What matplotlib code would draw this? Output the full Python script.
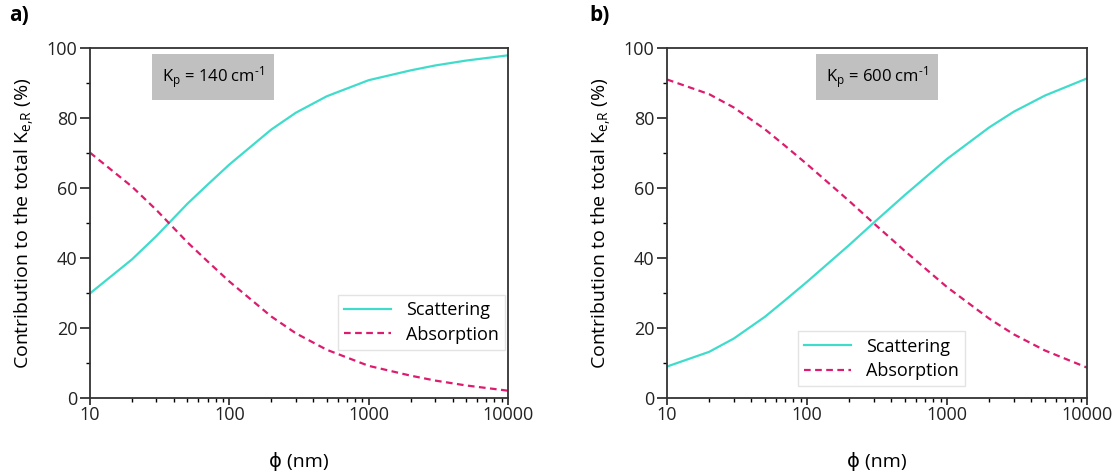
import numpy as np
import matplotlib
matplotlib.use("Agg")
from matplotlib import pyplot as plt

plt.rcParams['font.family'] = ['Open Sans', 'DejaVu Sans']
plt.rcParams['mathtext.fontset'] = 'custom'
plt.rcParams['mathtext.rm'] = 'Open Sans'
plt.rcParams['mathtext.it'] = 'Open Sans:italic'
plt.rcParams['mathtext.bf'] = 'Open Sans:bold'
plt.rcParams['mathtext.default'] = 'regular'

# particle diameter (nm)
diameter = [10, 20, 30, 50, 70, 100, 200, 300, 500, 1000, 2000, 3000, 5000, 10000]

# panel a) Kp = 140 cm-1, scattering share (%)
scat_a = [29.9, 39.6, 46.3, 55.5, 61.0, 66.7, 76.7, 81.5, 86.2, 90.8, 93.6, 95.0, 96.4, 97.9]
# panel b) Kp = 600 cm-1, scattering share (%)
scat_b = [9.0, 13.2, 17.0, 23.2, 28.0, 33.2, 43.7, 50.1, 58.0, 68.3, 77.3, 81.8, 86.4, 91.3]

abs_a = [100 - v for v in scat_a]
abs_b = [100 - v for v in scat_b]

panels = [
    ("a)", scat_a, abs_a, r"K$_{p}$ = 140 cm$^{\text{-1}}$"),
    ("b)", scat_b, abs_b, r"K$_{p}$ = 600 cm$^{\text{-1}}$"),
]
box_x = [0.172, 0.379]
leg_anchor = [(0.593, 0.137), (0.312, 0.034)]
positions = [[90 / 1118, 0.162, 418 / 1118, 0.737],
             [667 / 1118, 0.162, 420 / 1118, 0.737]]
letter_x = [0.008, 0.527]

TEAL = '#40dccb'
PINK = '#dc1c6e'

fig = plt.figure(figsize=(11.18, 4.75), dpi=100)

for i, (letter, scat, absorb, note) in enumerate(panels):
    ax = fig.add_axes(positions[i])
    ax.plot(diameter, scat, color=TEAL, lw=1.6, label='Scattering')
    ax.plot(diameter, absorb, color=PINK, lw=1.6, ls=(0, (3, 2)), label='Absorption')
    ax.set_xscale('log')
    ax.set_xlim(10, 10000)
    ax.set_ylim(0, 100)
    ax.set_xticks([10, 100, 1000, 10000])
    ax.set_xticklabels(['10', '100', '1000', '10000'])
    ax.set_yticks(range(0, 101, 20))
    ax.set_yticks(range(10, 100, 20), minor=True)
    ax.tick_params(which='major', direction='out', width=1.2,
                   labelsize=13, colors='#222222')
    ax.tick_params(axis='y', which='major', length=7, pad=2)
    ax.tick_params(axis='x', which='major', length=5, pad=1)
    ax.tick_params(which='minor', direction='out', length=3, width=1.0)
    for s in ax.spines.values():
        s.set_linewidth(1.3)
        s.set_color('#333333')
    ax.set_xlabel('ϕ (nm)', fontsize=14, labelpad=20)
    ax.set_ylabel(r'Contribution to the total K$_{\text{e,R}}$ (%)', fontsize=14, labelpad=8)
    ax.text(box_x[i], 0.917, note, transform=ax.transAxes, fontsize=12,
            va='center', ha='left',
            bbox=dict(boxstyle='square,pad=0.6', fc='#c0c0c0', ec='none'))
    ax.legend(loc='lower left', bbox_to_anchor=leg_anchor[i], fontsize=13,
              frameon=True, fancybox=False, edgecolor='#dddddd',
              handlelength=2.6, borderpad=0.35, labelspacing=0.35,
              borderaxespad=0)
    fig.text(letter_x[i], 0.955, letter, fontsize=15, fontweight='bold')

fig.savefig('out.png', dpi=100)
